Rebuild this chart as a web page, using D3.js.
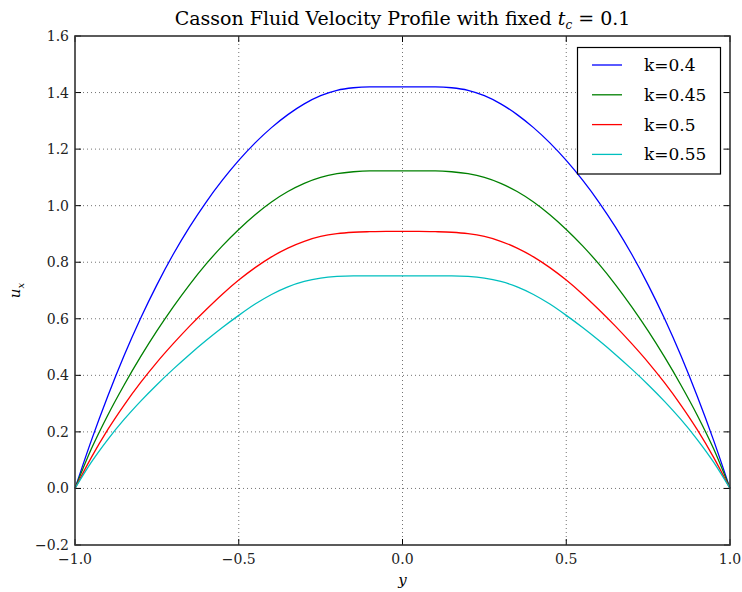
<!DOCTYPE html>
<html>
<head>
<meta charset="utf-8">
<script src="https://cdn.jsdelivr.net/npm/d3@7"></script>
<style>
  body { margin: 0; background: #fff; }
  text { font-family: "DejaVu Serif", "Liberation Serif", serif; }
</style>
</head>
<body>
<svg id="chart" width="742" height="592"></svg>
<script>
// half profile, y from -1 to 0 in steps of 0.05 (curves are mirrored about y = 0)
const yHalf = [-1, -0.95, -0.9, -0.85, -0.8, -0.75, -0.7, -0.65, -0.6, -0.55, -0.5,
               -0.45, -0.4, -0.35, -0.3, -0.25, -0.2, -0.15, -0.1, -0.05, 0];
const uK040 = [0, 0.170, 0.326, 0.470, 0.601, 0.720, 0.828, 0.925, 1.012, 1.090, 1.160,
               1.222, 1.276, 1.322, 1.360, 1.389, 1.408, 1.417, 1.420, 1.420, 1.420];
const uK045 = [0, 0.140, 0.259, 0.366, 0.465, 0.557, 0.642, 0.721, 0.793, 0.858, 0.916,
               0.968, 1.013, 1.050, 1.079, 1.100, 1.113, 1.120, 1.123, 1.123, 1.123];
const uK050 = [0, 0.110, 0.208, 0.295, 0.374, 0.446, 0.512, 0.574, 0.632, 0.687, 0.737,
               0.781, 0.819, 0.850, 0.874, 0.891, 0.901, 0.906, 0.908, 0.909, 0.909];
const uK055 = [0, 0.093, 0.173, 0.244, 0.308, 0.367, 0.422, 0.474, 0.523, 0.569, 0.612,
               0.652, 0.686, 0.713, 0.732, 0.744, 0.750, 0.752, 0.752, 0.752, 0.752];

const seriesNames = ["k=0.4", "k=0.45", "k=0.5", "k=0.55"];
const seriesColors = ["#0000ff", "#008000", "#ff0000", "#00bfbf"];
const seriesValues = [uK040, uK045, uK050, uK055];

const xTicks = [-1.0, -0.5, 0.0, 0.5, 1.0];
const yTicks = [-0.2, 0.0, 0.2, 0.4, 0.6, 0.8, 1.0, 1.2, 1.4, 1.6];

const margin = { left: 75, top: 36, right: 12, bottom: 47 };
const width = 742, height = 592;
const svg = d3.select("#chart");

const x = d3.scaleLinear().domain([-1, 1]).range([margin.left, width - margin.right]);
const y = d3.scaleLinear().domain([-0.2, 1.6]).range([height - margin.bottom, margin.top]);

const fmt = d => d3.format(".1f")(d).replace("-", "\u2212");

// grid
const grid = svg.append("g").attr("stroke", "#000").attr("stroke-opacity", 0.55)
  .attr("stroke-width", 1).attr("stroke-dasharray", "1,3");
grid.selectAll(".gx").data(xTicks.slice(1, -1)).join("line")
  .attr("x1", d => x(d)).attr("x2", d => x(d))
  .attr("y1", y(-0.2)).attr("y2", y(1.6));
grid.selectAll(".gy").data(yTicks.slice(1, -1)).join("line")
  .attr("x1", x(-1)).attr("x2", x(1))
  .attr("y1", d => y(d)).attr("y2", d => y(d));

// curves
const line = d3.line().x(d => x(d[0])).y(d => y(d[1])).curve(d3.curveMonotoneX);
seriesValues.forEach((vals, i) => {
  const left = yHalf.map((v, j) => [v, vals[j]]);
  const right = yHalf.slice(0, -1).reverse().map((v, j) => [-v, vals[yHalf.length - 2 - j]]);
  svg.append("path").datum(left.concat(right))
    .attr("fill", "none").attr("stroke", seriesColors[i]).attr("stroke-width", 1.3)
    .attr("d", line);
});

// axes with inward ticks on all four sides
const tickLen = 6;
const ax = svg.append("g").attr("stroke", "#000").attr("stroke-width", 1);
ax.selectAll(".tb").data(xTicks).join("line")
  .attr("x1", d => x(d)).attr("x2", d => x(d))
  .attr("y1", y(-0.2)).attr("y2", y(-0.2) - tickLen);
ax.selectAll(".tt").data(xTicks).join("line")
  .attr("x1", d => x(d)).attr("x2", d => x(d))
  .attr("y1", y(1.6)).attr("y2", y(1.6) + tickLen);
ax.selectAll(".tl").data(yTicks).join("line")
  .attr("x1", x(-1)).attr("x2", x(-1) + tickLen)
  .attr("y1", d => y(d)).attr("y2", d => y(d));
ax.selectAll(".tr").data(yTicks).join("line")
  .attr("x1", x(1)).attr("x2", x(1) - tickLen)
  .attr("y1", d => y(d)).attr("y2", d => y(d));

svg.append("rect")
  .attr("x", x(-1)).attr("y", y(1.6))
  .attr("width", x(1) - x(-1)).attr("height", y(-0.2) - y(1.6))
  .attr("fill", "none").attr("stroke", "#333").attr("stroke-width", 1.6);

// tick labels
svg.selectAll(".xl").data(xTicks).join("text")
  .attr("x", d => x(d)).attr("y", y(-0.2) + 19)
  .attr("text-anchor", "middle").attr("font-size", 14).attr("fill", "#222")
  .text(fmt);
svg.selectAll(".yl").data(yTicks).join("text")
  .attr("x", x(-1) - 6).attr("y", d => y(d) + 5)
  .attr("text-anchor", "end").attr("font-size", 14).attr("fill", "#222")
  .text(fmt);

// axis labels
svg.append("text").attr("x", x(0)).attr("y", 585)
  .attr("text-anchor", "middle").attr("font-size", 15).attr("font-style", "italic")
  .text("y");
const ylab = svg.append("text").attr("transform", `translate(20,${y(0.7)}) rotate(-90)`)
  .attr("text-anchor", "middle").attr("font-size", 15).attr("font-style", "italic");
ylab.append("tspan").text("u");
ylab.append("tspan").attr("font-size", 10).attr("dy", 4).text("x");

// title
const title = svg.append("text").attr("x", x(0)).attr("y", 25)
  .attr("text-anchor", "middle").attr("font-size", 19);
title.append("tspan").text("Casson Fluid Velocity Profile with fixed ");
title.append("tspan").attr("font-style", "italic").text("t");
title.append("tspan").attr("font-size", 12).attr("font-style", "italic").attr("dy", 4).text("c");
title.append("tspan").attr("dy", -4).text(" = 0.1");

// legend
const lg = svg.append("g");
lg.append("rect").attr("x", 577.5).attr("y", 47.5).attr("width", 143).attr("height", 126.5)
  .attr("fill", "#fff").attr("stroke", "#000").attr("stroke-width", 1.2);
seriesNames.forEach((name, i) => {
  const cy = 65 + i * 29.8;
  lg.append("line").attr("x1", 592).attr("x2", 622).attr("y1", cy).attr("y2", cy)
    .attr("stroke", seriesColors[i]).attr("stroke-width", 1.3);
  lg.append("text").attr("x", 644).attr("y", cy + 6).attr("font-size", 17).text(name);
});
</script>
</body>
</html>
